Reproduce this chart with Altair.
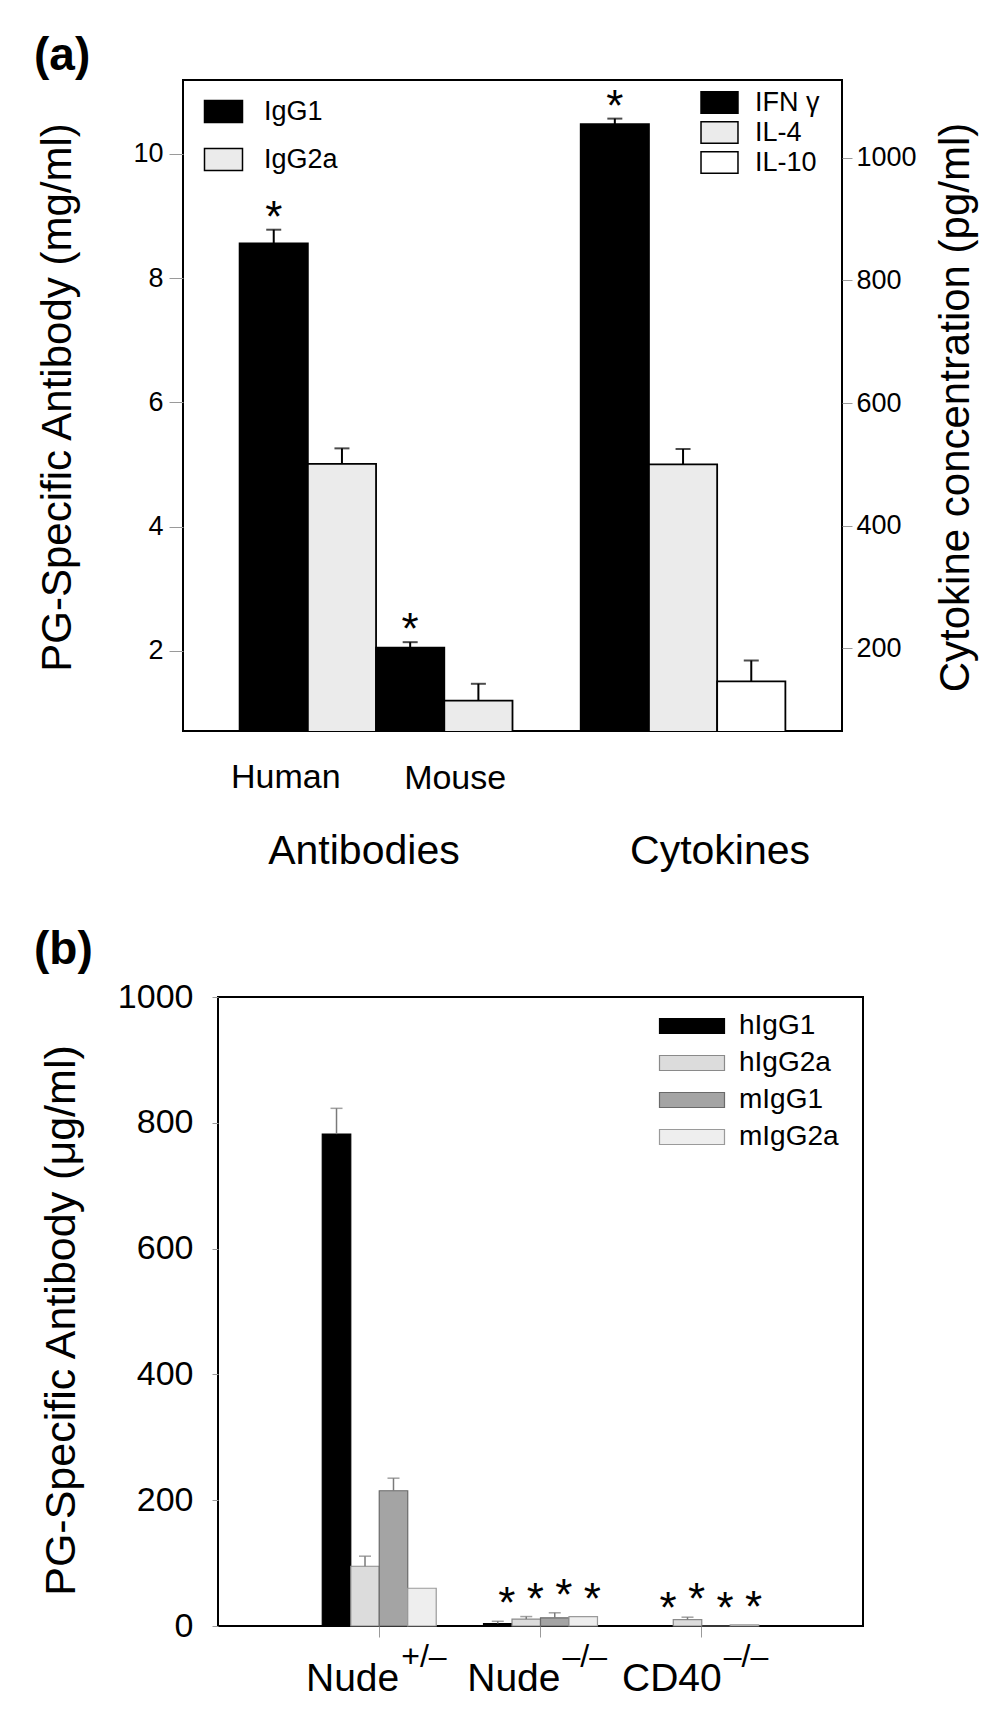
import altair as alt
import pandas as pd

FONT = "Liberation Sans"

# ---------------- Panel (a) data ----------------
slot_order_a = ["Human IgG1", "Human IgG2a", "Mouse IgG1", "Mouse IgG2a",
                "gap", "IFN γ", "IL-4", "IL-10"]

ab_slot = ["Human IgG1", "Human IgG2a", "Mouse IgG1", "Mouse IgG2a"]
ab_series = ["IgG1", "IgG2a", "IgG1", "IgG2a"]
ab_value = [8.56, 5.01, 2.05, 1.20]
ab_error = [0.22, 0.25, 0.09, 0.27]
ab_star = [True, False, True, False]

cy_series = ["IFN γ", "IL-4", "IL-10"]
cy_value = [1055, 500, 146]
cy_error = [9, 25, 34]
cy_star = [True, False, False]

ab_legend = ["IgG1", "IgG2a"]
ab_fill = ["#000000", "#ebebeb"]
cy_fill = ["#000000", "#ebebeb", "#ffffff"]

ab_ticks = [2, 4, 6, 8, 10]
cy_ticks = [200, 400, 600, 800, 1000]

sub_labels_a = ["Human", "Mouse"]
group_labels_a = ["Antibodies", "Cytokines"]

# ---------------- Panel (b) data ----------------
groups_b = ["Nude+/–", "Nude–/–", "CD40–/–"]
group_base_b = ["Nude", "Nude", "CD40"]
group_sup_b = ["+/–", "–/–", "–/–"]
series_b = ["hIgG1", "hIgG2a", "mIgG1", "mIgG2a"]
val_hIgG1 = [782, 4, 0]
val_hIgG2a = [95, 11, 10]
val_mIgG1 = [215, 13, 0]
val_mIgG2a = [60, 15, 2]
err_hIgG1 = [41, 3.5, 0]
err_hIgG2a = [16, 4, 4]
err_mIgG1 = [20, 8, 0]
err_mIgG2a = [0, 0, 0]
star_b = [False, True, True]
fill_b = ["#000000", "#dcdcdc", "#a4a4a4", "#eeeeee"]
stroke_b = ["#000000", "#8a8a8a", "#6a6a6a", "#9a9a9a"]
b_ticks = [0, 200, 400, 600, 800, 1000]

# ---------------- tables ----------------
df_ab = pd.DataFrame({"slot": ab_slot, "series": ab_series, "value": ab_value,
                      "err": ab_error, "star": ab_star})
df_cy = pd.DataFrame({"slot": cy_series, "series": cy_series, "value": cy_value,
                      "err": cy_error, "star": cy_star})

vals_b = [val_hIgG1, val_hIgG2a, val_mIgG1, val_mIgG2a]
errs_b = [err_hIgG1, err_hIgG2a, err_mIgG1, err_mIgG2a]
rows = []
for si, s in enumerate(series_b):
    for gi, g in enumerate(groups_b):
        rows.append({"group": g, "series": s, "value": vals_b[si][gi],
                     "err": errs_b[si][gi], "star": star_b[gi]})
df_b = pd.DataFrame(rows)
df_gl = pd.DataFrame({"group": groups_b, "base": group_base_b, "sup": group_sup_b})

# ---------------- Panel (a) chart ----------------
W_A, H_A = 659, 651

x_a = alt.X("slot:N", scale=alt.Scale(domain=slot_order_a, paddingInner=0, paddingOuter=0.83),
            axis=None)

sc_ab = alt.Scale(domain=[0.71, 11.19], zero=False, nice=False)
ax_ab = alt.Axis(orient="left", values=ab_ticks, format="d", title="PG-Specific Antibody (mg/ml)",
                 titleFontSize=42, titleX=-104, titleY=317, titleAngle=270,
                 titleBaseline="bottom", labelFontSize=27, tickSize=14, tickColor="#9a9a9a",
                 labelPadding=6, domain=False, grid=False)
sc_cy = alt.Scale(domain=[65, 1127], zero=False, nice=False)
ax_cy = alt.Axis(orient="right", values=cy_ticks, format="d",
                 title="Cytokine concentration (pg/ml)",
                 titleFontSize=42, titleX=135, titleY=327, titleAngle=270,
                 titleBaseline="bottom", labelFontSize=27, tickSize=10, tickColor="#9a9a9a",
                 labelPadding=4, domain=False, grid=False)


def yq(field, sc, ax):
    return alt.Y(field, type="quantitative", scale=sc, axis=ax)


leg_ab = alt.Legend(title=None, orient="none", legendX=27, legendY=18,
                    symbolType="M-1.727,-1H1.727V1H-1.727Z", symbolSize=484,
                    symbolStrokeColor="black", symbolStrokeWidth=1.5,
                    labelFontSize=27, labelOffset=27, rowPadding=19, padding=0)
leg_cy = alt.Legend(title=None, orient="none", legendX=523, legendY=9,
                    symbolType="M-1.72,-1H1.72V1H-1.72Z", symbolSize=462,
                    symbolStrokeColor="black", symbolStrokeWidth=1.5,
                    labelFontSize=27, labelOffset=22, rowPadding=1, padding=0)


def value_layers(df, sc, ax, fill_scale, legend):
    base = alt.Chart(df).transform_calculate(top="datum.value + datum.err")
    bars = base.mark_bar(stroke="black", strokeWidth=1.8, clip=True).encode(
        x=x_a, y=yq("value", sc, ax),
        fill=alt.Fill("series:N", scale=fill_scale, legend=legend, sort=None))
    err = base.mark_rule(color="black", strokeWidth=2).encode(
        x=x_a, y=yq("value", sc, ax), y2="top:Q")
    cap = base.mark_tick(color="black", thickness=2, size=15).encode(
        x=x_a, y=yq("top", sc, ax))
    star = base.transform_filter("datum.star").mark_text(
        text="*", fontSize=44, baseline="alphabetic", dy=2, font=FONT).encode(
        x=x_a, y=yq("top", sc, ax))
    return alt.layer(bars, err, cap, star)


ab_layer = value_layers(df_ab, sc_ab, ax_ab,
                        alt.Scale(domain=ab_legend, range=ab_fill), leg_ab)
cy_layer = value_layers(df_cy, sc_cy, ax_cy,
                        alt.Scale(domain=cy_series, range=cy_fill), leg_cy)

lab_df = pd.DataFrame({"text": sub_labels_a + group_labels_a})
label_specs = [  # (label, anchor slot, dx, font size, baseline y)
    (sub_labels_a[0], "Human IgG1", 12, 34, H_A + 57),
    (sub_labels_a[1], "Mouse IgG1", 45, 34, H_A + 58),
    (group_labels_a[0], "Human IgG2a", 22, 41, H_A + 133),
    (group_labels_a[1], "IL-4", 37, 41, H_A + 133),
]
label_layers = []
for txt, slot, dx, fs, yy in label_specs:
    label_layers.append(
        alt.Chart(lab_df).transform_filter(alt.datum.text == txt)
        .transform_calculate(slot=f"'{slot}'")
        .mark_text(fontSize=fs, dx=dx, baseline="alphabetic", font=FONT, color="black")
        .encode(x=x_a, y=alt.value(yy), text="text:N"))

tag_a = alt.Chart(pd.DataFrame({"t": ["(a)"]})).mark_text(
    fontSize=46, fontWeight="bold", align="left", baseline="alphabetic", font=FONT
).encode(x=alt.value(-149), y=alt.value(-10), text="t:N")

panel_a = alt.layer(ab_layer, cy_layer, *label_layers, tag_a).resolve_scale(
    y="independent", fill="independent").properties(width=W_A, height=H_A)

# ---------------- Panel (b) chart ----------------
W_B, H_B = 645, 629

x_b = alt.X("group:N", scale=alt.Scale(domain=groups_b, paddingInner=0, paddingOuter=0.5),
            axis=alt.Axis(title=None, labels=False, tickSize=11, tickColor="#9a9a9a",
                          domain=False, grid=False))
xo_b = alt.XOffset("series:N", scale=alt.Scale(domain=series_b, paddingInner=0,
                                               paddingOuter=0.83))
sc_b = alt.Scale(domain=[0, 1000], nice=False)
ax_b = alt.Axis(values=b_ticks, format="d", title="PG-Specific Antibody (μg/ml)",
                titleFontSize=43, titleX=-135, titleY=323, titleAngle=270,
                titleBaseline="bottom", labelFontSize=34, tickSize=6, tickColor="#9a9a9a",
                labelPadding=19, domain=False, grid=False)

leg_b = alt.Legend(title=None, orient="none", legendX=460, legendY=15,
                   symbolType="M-4.333,-1H4.333V1H-4.333Z", symbolSize=225,
                   symbolStrokeColor="#888888", symbolStrokeWidth=1.2,
                   labelFontSize=28, labelOffset=33, rowPadding=9, padding=0)

base_b = alt.Chart(df_b).transform_calculate(top="datum.value + datum.err")
bars_b = base_b.mark_bar(strokeWidth=1.2).encode(
    x=x_b, xOffset=xo_b, y=yq("value", sc_b, ax_b),
    fill=alt.Fill("series:N", scale=alt.Scale(domain=series_b, range=fill_b),
                  legend=leg_b, sort=None),
    stroke=alt.Stroke("series:N", scale=alt.Scale(domain=series_b, range=stroke_b),
                      legend=None))
err_b = base_b.transform_filter("datum.err > 0").mark_rule(
    color="#7a7a7a", strokeWidth=1.5).encode(
    x=x_b, xOffset=xo_b, y=yq("value", sc_b, ax_b), y2="top:Q")
cap_b = base_b.transform_filter("datum.err > 0").mark_tick(
    color="#7a7a7a", thickness=1.5, size=12).encode(
    x=x_b, xOffset=xo_b, y=yq("top", sc_b, ax_b))
star_bl = base_b.transform_filter("datum.star").mark_text(
    text="*", fontSize=44, baseline="alphabetic", dx=9, dy=-3, font=FONT).encode(
    x=x_b, xOffset=xo_b, y=yq("top", sc_b, ax_b))

gl_base = alt.Chart(df_gl).mark_text(
    fontSize=39, align="right", dx=20, baseline="alphabetic", font=FONT, color="black"
).encode(x=x_b, y=alt.value(H_B + 65), text="base:N")
gl_sup = alt.Chart(df_gl).mark_text(
    fontSize=32, align="left", dx=22, baseline="alphabetic", font=FONT, color="black"
).encode(x=x_b, y=alt.value(H_B + 41), text="sup:N")

tag_b = alt.Chart(pd.DataFrame({"t": ["(b)"]})).mark_text(
    fontSize=46, fontWeight="bold", align="left", baseline="alphabetic", font=FONT
).encode(x=alt.value(-184), y=alt.value(-33), text="t:N")

panel_b = alt.layer(bars_b, err_b, cap_b, star_bl, gl_base, gl_sup, tag_b).properties(
    width=W_B, height=H_B)


def spacer():
    # 1-px invisible anchor so that both panels are aligned by their left edges
    return alt.Chart(pd.DataFrame({"v": [0]})).mark_rect(opacity=0).encode(
        x=alt.value(0), x2=alt.value(1), y=alt.value(0), y2=alt.value(1)
    ).properties(width=1, height=1, view=alt.ViewBackground(strokeOpacity=0))


row_a = alt.hconcat(spacer(), panel_a, spacing=0).resolve_scale(
    fill="independent", stroke="independent")
row_b = alt.hconcat(spacer(), panel_b, spacing=0).resolve_scale(
    fill="independent", stroke="independent")

chart = alt.vconcat(row_a, row_b, spacing=53).resolve_scale(
    fill="independent", stroke="independent").properties(
    padding={"left": 24, "top": 24, "right": 5, "bottom": 0}
).configure(font=FONT).configure_view(stroke="black", strokeWidth=2).configure_axis(
    labelFont=FONT, titleFont=FONT, titleFontWeight="normal", labelColor="black",
    titleColor="black").configure_legend(labelFont=FONT, labelColor="black")

chart.save("out.html", embed_options={"renderer": "svg", "actions": False})
